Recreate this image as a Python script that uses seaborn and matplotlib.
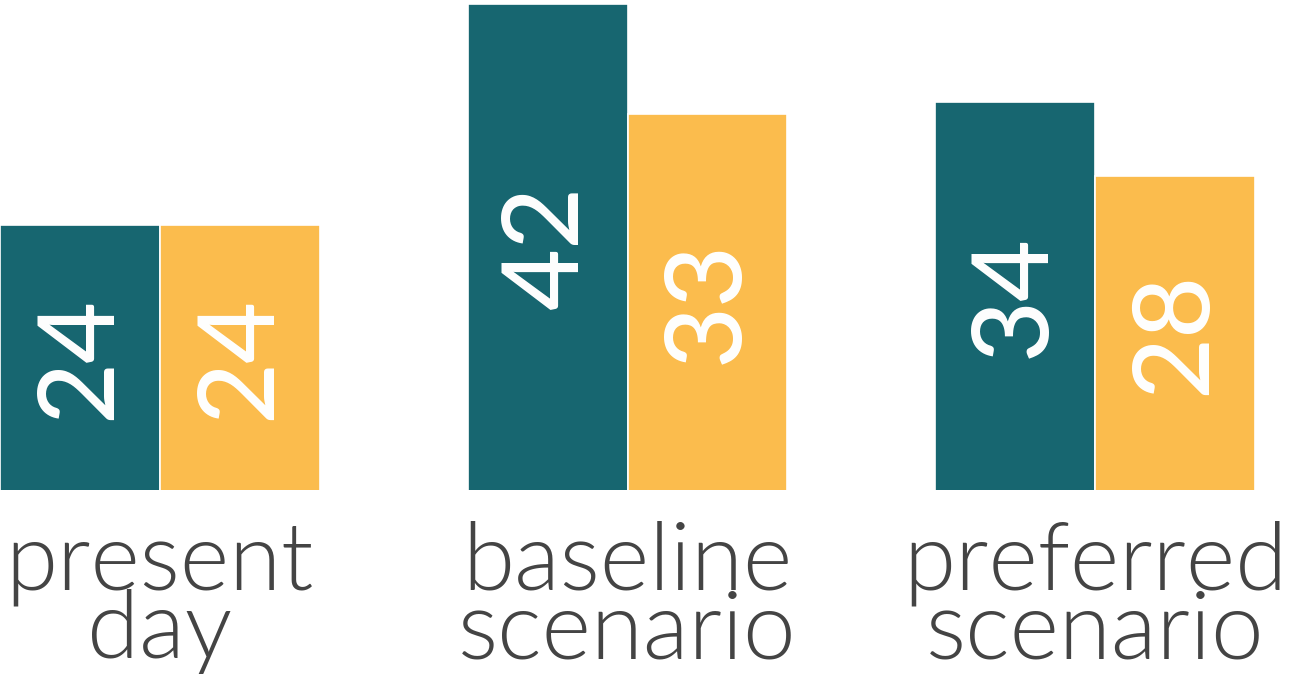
import matplotlib
matplotlib.use("Agg")
import matplotlib.pyplot as plt
import seaborn as sns
import pandas as pd

categories = ["present\nday", "baseline\nscenario", "preferred\nscenario"]
series_names = ["Series 1", "Series 2"]
series1 = [24, 42, 34]
series2 = [24, 33, 28]

teal = "#176670"
yellow = "#FBBC4D"

df = pd.DataFrame({
    "category": categories * 2,
    "series": [series_names[0]] * 3 + [series_names[1]] * 3,
    "value": series1 + series2,
})

sns.set_theme(style="white")
plt.rcParams["font.family"] = ["Lato", "DejaVu Sans"]

fig = plt.figure(figsize=(12.99, 6.74), dpi=100)
ax = fig.add_axes([0, 1 - 490 / 674, 1, 490 / 674])

sns.barplot(data=df, x="category", y="value", hue="series",
            palette=[teal, yellow], saturation=1, width=0.684,
            edgecolor="white", linewidth=1.2, legend=False, ax=ax)

for cont in ax.containers:
    ax.bar_label(cont, label_type="center", rotation=90, color="white",
                 fontsize=77, fontfamily="Lato", fontweight=500)

ax.set_xlim(-0.342, 2.436)
ax.set_ylim(2.42, 42.32)
ax.set_xlabel("")
ax.set_ylabel("")
ax.set_yticks([])
ax.set_xticks(range(len(categories)))
ax.set_xticklabels(categories, fontsize=68, fontweight=300,
                   color="#444444", linespacing=0.76)
ax.tick_params(axis="x", length=0, pad=22)
for s in ax.spines.values():
    s.set_visible(False)

fig.savefig("out.png", dpi=100)
